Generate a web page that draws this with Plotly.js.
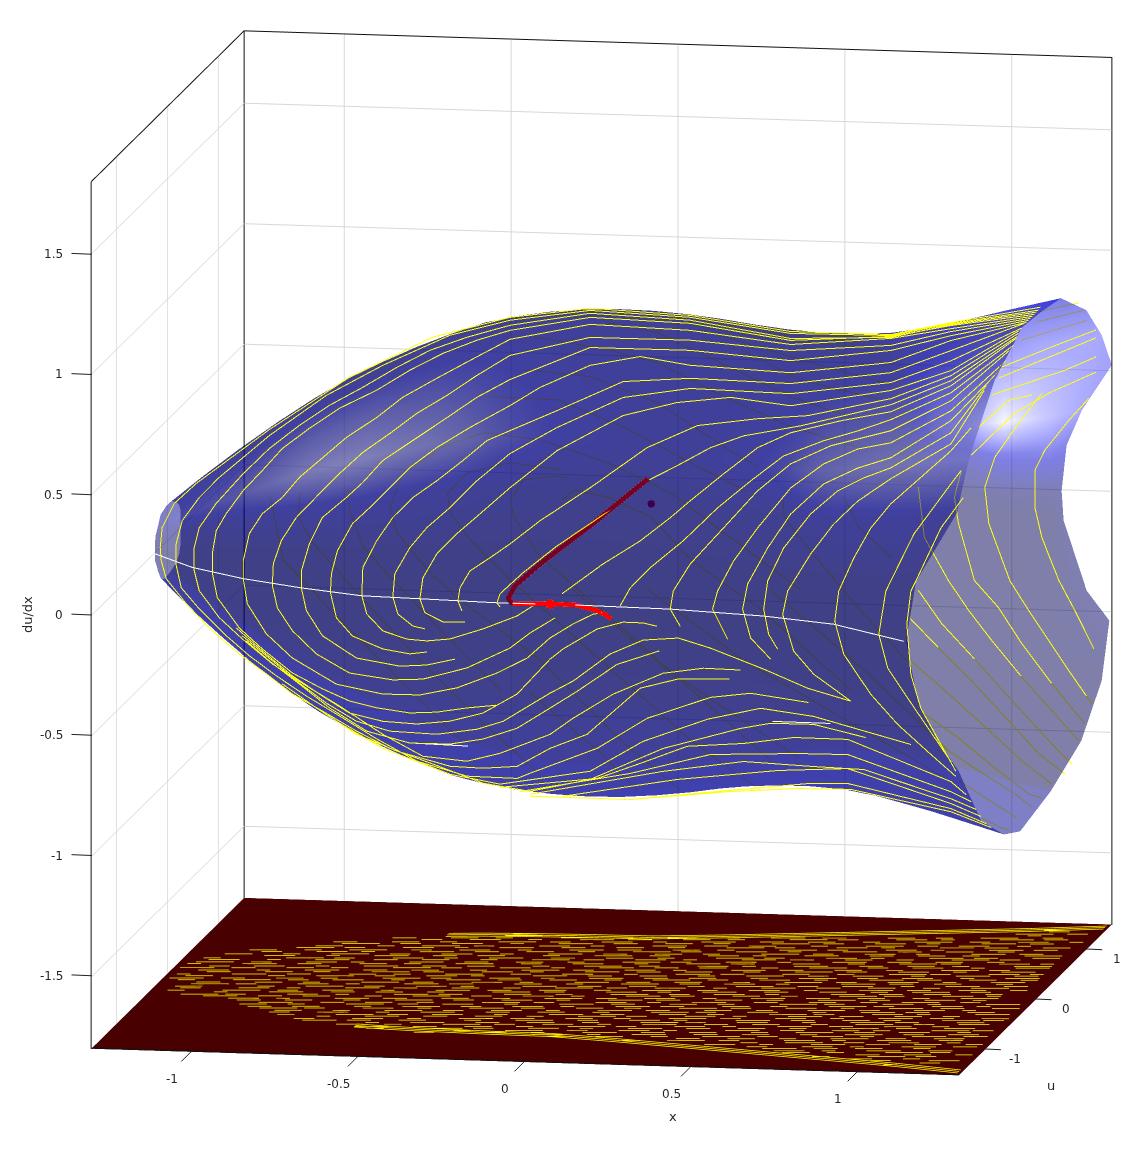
<!DOCTYPE html>
<html><head><meta charset="utf-8">
<script src="https://cdn.plot.ly/plotly-3.0.1.min.js"></script>
<style>html,body{margin:0;padding:0;background:#fff}#p{width:1148px;height:1151px}</style>
</head><body><div id="p"></div>
<script>
const stationX=[-1.3,-1.25,-1.2,-1.1,-1,-.9,-.8,-.7,-.6,-.5,-.4,-.3,-.2,-.1,0,.1,.2,.3,.4,.5,.6,.7,.8,.9,1,1.07,1.13];
const halfU=[.25,.34,.42,.55,.67,.76,.83,.885,.93,.955,.97,.98,.99,.995,1,1.03,1.06,1.095,1.13,1.165,1.2,1.235,1.27,1.305,1.34,1.365,1.39];
const halfZ=[.148,.205,.262,.37,.471,.565,.649,.72,.785,.842,.893,.925,.947,.96,.965,.96,.948,.93,.907,.888,.876,.873,.879,.9,.932,.955,.977];
const ringU=[.07,-.14,-.55,-.76,-.93,-1,-1,-.97,-.83,-.76,-.55,-.38,-.21,.21,.62,.9,1,1,1,1,1,1,1,.9,.69,.345];
const ringZ=[1,.99,.91,.66,.48,.23,-.01,-.26,-.46,-.6,-.86,-.96,-1,-.96,-.88,-.72,-.51,-.39,-.11,.007,.19,.33,.506,.667,.827,.976];
const rimX=[1.3,1.29,1.3,1.27,1.27,1.164,1.134,1.162,1.19,1.238,1.26,1.29,1.3,1.3,1.3,1.3,1.3,1.232,1.163,1.157,1.172,1.218,1.3,1.3,1.3,1.3];
const rimU=[.1,-.2,-.8,-1.1,-1.35,-1.45,-1.45,-1.4,-1.2,-1.1,-.8,-.55,-.3,.3,.9,1.3,1.45,1.45,1.45,1.45,1.45,1.45,1.5,1.3,1,.5];
const rimZ=[1.035,1.034,.94,.68,.5,.237,-.013,-.272,-.478,-.62,-.89,-.996,-1.035,-.994,-.91,-.744,-.526,-.404,-.116,.007,.196,.344,.524,.69,.856,1.01];
const frontBase=[.25,.26,.24,.18,.12,.08,.04,.08,.14,.24,.32,.34,.34,.28];
const bandProfile=[0,0,.25,.75,.2,0,0,0,0,0,0,0,0,0];
const bandStrength=[.2,.25,.3,.4,.5,.7,.9,1,1,.9,.8,.65,.45,.3,.2,.15,.1,.1,.1,.15,.2,.35,.6,.72,.8,.82,.85,.85];
const backLate=[
[0,0,0,0,0,0,0,.15,.4,.45,.3,.2,.15,.1],
[0,0,0,0,0,0,0,.22,.65,.6,.4,.28,.22,.15],
[0,0,0,0,0,0,.04,.35,1,.7,.5,.35,.3,.2],
[0,0,0,0,0,0,.04,.36,.85,.7,.52,.38,.32,.25],
[0,0,0,0,0,0,.04,.38,.72,.65,.55,.4,.35,.3],
[0,0,0,.05,.05,.05,.08,.35,.55,.5,.55,.4,.3,.3]];

const A1=[1.276,1.325,1.096,1.268,.796,1.268,.495,1.322,.195,1.339,-.045,1.291,-.276,1.199,-.526,1.022,-.766,.795,-.985,.562,-1.051,.476,-1.087,.375,-1.093,.292,-1.09,.238,-1.075,.163,-1.015,.062,-.937,-.047,-.856,-.14,-.775,-.219,-.697,-.299,-.607,-.366,-.505,-.445,-.405,-.512,-.276,-.572,-.126,-.645,.015,-.673,.195,-.616,.414,-.478,.646,-.385,.736,-.36,.865,-.359,1.021,-.407];
const A2=[1.276,1.321,1.096,1.264,.796,1.26,.495,1.314,.195,1.33,-.045,1.279,-.225,1.209,-.426,1.076,-.595,.944,-.766,.77,-.916,.59,-.976,.504,-1.027,.406,-1.045,.31,-1.045,.219,-1.03,.127,-.976,.042,-.895,-.066,-.826,-.146,-.745,-.226,-.655,-.306,-.565,-.377,-.444,-.475,-.324,-.562,-.174,-.618,-.024,-.621,.015,-.598,.216,-.486,.366,-.355,.556,-.26,.676,-.238,.85,-.269];
const A3=[1.276,1.317,1.096,1.256,.796,1.239,.495,1.302,.195,1.318,-.045,1.258,-.174,1.203,-.285,1.144,-.384,1.069,-.486,.982,-.586,.903,-.676,.816,-.766,.716,-.844,.609,-.925,.482,-.976,.379,-.991,.296,-.991,.2,-.976,.117,-.916,.008,-.847,-.077,-.757,-.177,-.655,-.264,-.556,-.343,-.426,-.455,-.306,-.541,-.174,-.556,-.075,-.519,.075,-.434,.144,-.364,.264,-.259,.414,-.166,.535,-.14,.646,-.143];
const A4=[1.276,1.313,1.096,1.26,.796,1.231,.495,1.289,.195,1.301,-.045,1.237,-.144,1.192,-.246,1.133,-.345,1.059,-.444,.972,-.556,.892,-.646,.805,-.727,.718,-.787,.624,-.844,.539,-.895,.441,-.925,.369,-.937,.273,-.937,.194,-.922,.091,-.856,-.032,-.787,-.116,-.697,-.212,-.607,-.274,-.526,-.321,-.444,-.346,-.345,-.363,-.264,-.356,-.174,-.335,-.087,-.32];
const A5=[1.276,1.3,1.096,1.252,.796,1.214,.495,1.26,.195,1.272,-.045,1.2,-.165,1.107,-.264,1.029,-.366,.946,-.444,.859,-.535,.772,-.616,.673,-.676,.6,-.727,.515,-.787,.445,-.826,.361,-.844,.248,-.844,.173,-.832,.069,-.775,-.053,-.697,-.15,-.565,-.253,-.426,-.288,-.315,-.287,-.204,-.253,-.084,-.186,.006,-.121,.075,-.034,.144,.027,.204,.07,.231,.077];
const A6=[1.276,1.288,1.096,1.223,.796,1.189,.495,1.219,.195,1.218,-.045,1.133,-.144,1.046,-.234,.959,-.324,.881,-.405,.794,-.486,.712,-.556,.621,-.616,.535,-.685,.434,-.73,.336,-.754,.239,-.757,.148,-.742,.056,-.697,-.037,-.625,-.13,-.526,-.205,-.396,-.228,-.306,-.221,-.174,-.169,-.045,-.081,.015,-.016,.09,.05];
const A7=[1.276,1.271,1.096,1.202,.796,1.147,.495,1.177,.195,1.176,-.045,1.033,-.144,.955,-.246,.855,-.336,.768,-.426,.681,-.486,.587,-.535,.523,-.607,.437,-.646,.326,-.67,.213,-.67,.142,-.655,.048,-.607,-.054,-.505,-.142,-.375,-.17,-.294,-.162,-.21,-.134];
const A8=[1.276,1.251,1.096,1.152,.796,1.097,.495,1.115,.345,1.145,.195,1.102,.045,1.004,-.045,.925,-.165,.829,-.264,.742,-.345,.655,-.405,.569,-.465,.484,-.517,.415,-.562,.301,-.58,.205,-.583,.126,-.565,.022,-.517,-.051,-.426,-.101,-.345,-.118,-.294,-.108];
const A9=[1.276,1.209,1.096,1.11,.796,1.052,.495,1.061,.294,1.039,.096,.91,-.045,.821,-.114,.777,-.186,.691,-.264,.604,-.336,.531,-.396,.446,-.444,.348,-.486,.234,-.489,.117,-.474,.042,-.426,-.026,-.354,-.057,-.294,-.062,-.225,-.051,-.126,-.005,-.024,.053,.024,.097];
const A10=[1.276,1.167,1.096,1.069,.796,1.01,.495,1.019,.294,.973,.096,.84,-.045,.726,-.144,.609,-.225,.494,-.294,.408,-.345,.323,-.39,.213,-.396,.117,-.381,.046,-.336,-.002,-.3,-.012];
const A11=[1.276,1.126,1.096,1.036,.796,.96,.616,.987,.456,.959,.294,.898,.096,.744,-.045,.584,-.135,.472,-.204,.387,-.264,.301,-.306,.199,-.315,.112,-.3,.055,-.246,.019,-.18,.022];
const A12=[1.276,1.105,1.096,1.002,.847,.921,.697,.902,.517,.866,.366,.768,.195,.594,.045,.451,-.045,.351,-.105,.291,-.165,.234,-.195,.162,-.201,.108,-.189,.067];
const A13=[1.276,1.084,1.096,.977,.826,.878,.655,.829,.556,.776,.456,.697,.366,.63,.294,.544,.195,.445,.096,.349,-.006,.233,-.075,.143,-.084,.105,-.075,.088];
const V1=[1.276,1.063,1.096,.948,.946,.904,.796,.848,.697,.782,.595,.669,.495,.553,.435,.48,.345,.38,.234,.28,.111,.151];
const V2=[1.276,1.034,1.096,.915,.997,.864,.895,.819,.775,.751,.676,.643,.577,.527,.474,.386,.375,.27,.315,.183,.285,.108];
const V3=[1.276,1.001,1.096,.869,.916,.799,.796,.719,.697,.603,.595,.445,.495,.291,.444,.176,.435,.101,.465,.031];
const V4=[1.276,.959,1.096,.819,.997,.789,.895,.723,.796,.619,.697,.449,.625,.309,.577,.182,.562,.106,.607,-.017];
const V5=[1.276,.918,1.096,.757,.997,.71,.895,.64,.796,.511,.727,.367,.667,.215,.652,.11,.676,-.009,.736,-.094];
const V6=[1.276,.868,1.096,.715,1.015,.67,.937,.613,.856,.514,.775,.369,.727,.23,.715,.113,.73,.009,.757,-.052];
const V7=[1.276,.822,1.096,.67,.997,.573,.925,.475,.856,.348,.787,.191,.772,.094,.805,-.058,.865,-.151,.976,-.258];
const V8=[1.276,.793,1.096,.566,1.036,.463,.985,.336,.94,.197,.928,.072,.955,-.064,1.036,-.227,1.117,-.349,1.216,-.469,1.291,-.557];
const V9=[1.276,.656,1.165,.443,1.096,.246,1.081,.203,1.06,.023,1.087,-.117,1.147,-.239,1.276,-.496];
const V10=[1.246,.472,1.171,.249,1.156,.206,1.144,.069,1.156,-.139,1.186,-.279,1.291,-.536];
const rimLines=[A1,A2,A3,A4,A5,A6,A7,A8,A9,A10,A11,A12,A13,V1,V2,V3,V4,V5,V6,V7,V8,V9,V10];
const rimTailU=[.166,.126,.087,.047,.008,-.032,-.071,-.111,-.15,-.209,-.249,-.268,-.288,-.308,-.367,-.446,-.505,-.604,-.9,-.939,-1.196,-1.393,-1.354];
const rimTailZ=[1.042,1.038,1.038,1.037,1.037,1.037,1.037,1.037,1.041,1.033,1.032,1.024,1.016,1.012,.995,.99,.961,.948,.939,.927,.826,.689,.568];
const rimTailX=1.29;
const P2=[-.865,-.032,-.787,-.124,-.697,-.224,-.607,-.304,-.526,-.371,-.426,-.401,-.324,-.408,-.225,-.392,-.126,-.354,-.024,-.271,.075,-.122,.114,-.078,.216,.009,.294,.041,.354,.04,.396,.028];
const P3=[-.847,-.064,-.775,-.144,-.685,-.244,-.595,-.333,-.505,-.404,-.405,-.441,-.264,-.448,-.144,-.422,-.066,-.386,.075,-.263,.144,-.21,.255,-.093,.354,-.031,.459,-.018,.556,-.056,.715,-.136,.847,-.21,.976,-.258];
const P4=[-.835,-.085,-.766,-.165,-.676,-.257,-.586,-.352,-.474,-.444,-.345,-.488,-.225,-.487,-.126,-.462,-.024,-.413,.075,-.325,.156,-.252,.276,-.135,.402,-.074];
const P6=[-.727,-.259,-.625,-.354,-.505,-.458,-.384,-.523,-.225,-.579,-.126,-.583,-.024,-.571,.075,-.492,.186,-.429,.345,-.231,.456,-.189,.613,-.182];
const P8=[-.565,-.407,-.426,-.513,-.225,-.612,-.075,-.647,.195,-.582,.354,-.451,.547,-.351,.706,-.299,.865,-.326,1.156,-.43];
const openLines=[P2,P3,P4,P6,P8];
const L11=[-.075,-.66,.216,-.611,.345,-.543,.486,-.466,.655,-.447,.805,-.416,.967,-.417,1.276,-.579];
const L12=[-.015,-.675,.315,-.586,.556,-.497,.817,-.482,.967,-.48,1.276,-.621];
const L13=[.015,-.685,.414,-.573,.655,-.522,.865,-.534,1.015,-.54,1.276,-.65];
const L14=[.114,-.689,.456,-.605,.757,-.555,.967,-.538,1.276,-.67];
const L15=[.315,-.694,.616,-.643,.856,-.604,.967,-.6,1.276,-.691];
const L16=[.015,-.693,.315,-.694,.616,-.648,.817,-.627,.976,-.624,1.276,-.704];
const bottomLines=[L11,L12,L13,L14,L15,L16];
const bottomTailU=[-1.295,-1.196,-1.097,-.999,-.9,-.801];
const bottomTailZ=[-.675,-.725,-.778,-.828,-.878,-.915];

const W1=[1.277,.448,1.217,.354,1.145,.227,1.115,.142,1.115,-.012,1.136,-.136,1.187,-.312,1.235,-.435,1.292,-.591];
const W2=[1.136,.463,1.067,.336,.995,.191,.965,.065,.977,-.084,1.04,-.319,1.097,-.441,1.157,-.563,1.217,-.685,1.286,-.82];
const W3=[.895,.133,.874,.02,.886,-.088,.934,-.323,1.006,-.432,1.076,-.579,1.166,-.741,1.265,-.904];
const W4=[.766,.057,.784,-.151,.856,-.326,.917,-.448,.986,-.57,1.085,-.732,1.175,-.866,1.247,-.975];
const W5=[.766,-.371,.836,-.506,.947,-.667,1.055,-.829,1.166,-.991,1.226,-1.072];
const W6=[.739,-.485,.826,-.606,.925,-.739,1.037,-.901,1.127,-1.034,1.205,-1.114];
const W7=[.736,-.655,.836,-.772,.956,-.916,1.076,-1.065,1.166,-1.157];
const W8=[.784,-.882,.886,-.978,.995,-1.098,1.097,-1.202,1.136,-1.217];
const W9=[.826,-1.005,.934,-1.101,1.055,-1.203,1.106,-1.256];
const W10=[.889,-1.156,.995,-1.247,1.061,-1.303];
const W11=[.956,-1.307,1.016,-1.346,1.04,-1.354];
const W12=[1.106,.795,1.247,.842];
const W13=[1.121,.758,1.265,.813];
const W14=[1.076,.681,1.27,.77];
const W15=[1.016,.566,1.157,.651,1.298,.732];
const W16=[1.007,.52,1.136,.6,1.298,.699];
const W17=[.986,.449,1.205,.561,1.298,.62];
const W18=[.947,.314,1.037,.43,1.106,.454];
const W19=[.925,.197,1.055,.377,1.157,.464,1.298,.557];
const farLines=[W1,W2,W3,W4,W5,W6,W7,W8,W9,W10,W11,W12,W13,W14,W15,W16,W17,W18,W19];

const D1=[-1.132,-.109,-1.138,-.21,-1.093,-.316,-1.021,-.425,-.943,-.546,-.772,-.789,-.592,-1.031,-.411,-1.252];
const D2=[-.862,-.156,-.841,-.264,-.742,-.426,-.652,-.534,-.411,-.774,-.171,-1.096,.009,-1.297];
const D3=[-.691,-.091,-.682,-.174,-.622,-.284,-.502,-.445,-.231,-.766,.039,-1.088,.249,-1.287];
const D5=[-.862,-.156,-.823,-.013,-.703,.1,-.583,.163,-.411,.141,-.21,.054,-.021,-.063,.189,-.271,.369,-.45];
const D6=[-.691,-.091,-.631,-.005,-.502,.042,-.351,.019];
const D7=[-.502,-.112,-.462,-.027,-.36,-.007,-.327,-.014];
const D8=[-.502,-.112,-.492,-.183,-.411,-.346,-.261,-.518,.009,-.84,.279,-1.161];
const D9=[-.345,-.106,-.312,-.063,-.21,-.088,-.081,-.165,.039,-.339,.24,-.526,.52,-.86];
const D10=[-.462,.43,-.261,.409,-.06,.309,.138,.135,.24,.056];
const D11=[-.432,.568,-.21,.523,-.06,.476,.138,.343,.339,.226,.541,.151];
const D12=[-.21,.636,-.06,.6,.09,.507,.339,.351,.541,.264];
const D13=[-.562,.314,-.36,.309,-.162,.205,.039,.064,.21,-.049];
const D14=[.315,-.078,.318,-.149,.378,-.254,.541,-.518,.685,-.728];
const D15=[.498,-.058,.541,-.181,.64,-.302];
const D16=[-.312,-.479,-.042,-.788,.36,-1.145];
const D17=[-.09,-.469,.21,-.76,.559,-1.025,.799,-1.21];
const D18=[-.441,-.912,-.24,-1.141,-.12,-1.302];
const D19=[.279,-.454,.559,-.775,.811,-1.097];
const D20=[-.991,-.079,-.982,-.186,-.943,-.326,-.862,-.447,-.712,-.662,-.532,-.904];
const D21=[-1.222,-.13,-1.183,-.39,-1.012,-.632,-.832,-.874,-.652,-1.116];
const D23=[.189,.54,.369,.423,.61,.35];
const D24=[.069,.618,.369,.506,.64,.413];
const backLines=[D1,D2,D3,D5,D6,D7,D8,D9,D10,D11,D12,D13,D14,D15,D16,D17,D18,D19,D20,D21,D23,D24];

const whiteMain=[-1.111,.266,-.997,.213,-.844,.173,-.67,.142,-.489,.117,-.315,.112,-.084,.105,.144,.106,.435,.101,.715,.084,.925,.059,1.135,-.003];
const whiteA=[-.33,-.488,-.171,-.493];
const whiteB=[.742,-.352,.916,-.353];
const darkRed=[.369,.639,.195,.436,.045,.272,-.03,.178,-.051,.123,-.036,.103];
const brightRed=[-.036,.103,.075,.107,.15,.106,.21,.088,.243,.068,.258,.053];
const redDot=[.075,.107];
const purpleDot=[.378,.536];

const rowU=[1.2,1.12,1.04,1.04,.96,.88,.8,.72,.64,.56,.48,.4,.32,.24,.16,.08,0,-.08,-.16,-.24,-.32,-.4,-.48,-.56,-.64,-.72,-.8,-.88,-.96,-1.04,-1.12,-1.2,-1.28,-1.36,-1.44,-1.52,-1.6,-1.68];
const rowFrom=[1.233,1.056,-.535,.922,-.815,-.978,-1.097,-1.159,-1.19,-1.281,-1.29,-1.29,-1.29,-1.29,-1.29,-1.29,-1.29,-1.259,-1.203,-1.148,-1.092,-1.028,-.967,-.897,-.812,-.727,-.628,-.427,-.124,.209,.395,.539,.681,.81,.895,1.037,1.166,1.265];
const rowTo=[1.289,1.289,-.157,1.289];
const rowShift=[0,-.035];
const dashStart=[
[-1.28,-1.13,-.97,-.84,-.66,-.52,-.35,-.2,-.06,.1,.23,.41,.55,.72,.85,1.02,1.15],
[-1.22,-1.05,-.91,-.74,-.6,-.43,-.28,-.13,.02,.16,.33,.47,.63,.78,.94,1.08,1.23],
[-1.25,-1.09,-.93,-.8,-.63,-.47,-.32,-.17,-.01,.13,.29,.44,.6,.76,.9,1.05,1.2],
[-1.19,-1.02,-.88,-.71,-.56,-.39,-.25,-.09,.06,.2,.37,.52,.67,.82,.98,1.12,1.26],
[-1.27,-1.11,-.95,-.77,-.64,-.49,-.3,-.15,.03,.18,.31,.49,.65,.8,.92,1.09,1.21],
[-1.2,-1.07,-.89,-.75,-.58,-.45,-.26,-.11,.05,.22,.35,.5,.69,.83,.96,1.14,1.24],
[-1.24,-1,-.86,-.69,-.54,-.41,-.23,-.07,.08,.25,.39,.57,.7,.87,1,1.17,1.27]];
const dashLen=[.08,.05,.11,.06,.09,.04,.1,.07];
const edgeInset=[0,.03,.06];
const edgeFirstStation=8;
const edgeEndX=1.29,edgeEndU=1.46;

const X0=-1.3,X1=1.3,U0=-1.5,U1=1.5,Z0=-1.8,Z1=1.8,ZF=-1.797;
const xTicks=[-1,-.5,0,.5,1],uTicks=[-1,0,1],zTicks=[-1.5,-1,-.5,0,.5,1,1.5];
const FRONT_U=-1.5,FAR_U=1.2,BACK_U=1.5;

function collect(list,u){let a=[],b=[],c=[];list.forEach(f=>{for(let i=0;i<f.length;i+=2){a.push(f[i]);b.push(u);c.push(f[i+1]);}a.push(null);b.push(null);c.push(null);});return [a,b,c];}
function lineTrace(p,color,width){return {type:'scatter3d',mode:'lines',x:p[0],y:p[1],z:p[2],line:{color:color,width:width},hoverinfo:'skip'};}
let ya=[],yb=[],yc=[];
rimLines.forEach((f,k)=>{ya.push(rimTailX);yb.push(rimTailU[k]);yc.push(rimTailZ[k]);
 for(let i=0;i<f.length;i+=2){ya.push(f[i]);yb.push(FRONT_U);yc.push(f[i+1]);}ya.push(null);yb.push(null);yc.push(null);});
bottomLines.forEach((f,k)=>{for(let i=0;i<f.length;i+=2){ya.push(f[i]);yb.push(FRONT_U);yc.push(f[i+1]);}
 ya.push(rimTailX,null);yb.push(bottomTailU[k],null);yc.push(bottomTailZ[k],null);});
const op=collect(openLines,FRONT_U);ya=ya.concat(op[0]);yb=yb.concat(op[1]);yc=yc.concat(op[2]);

let sx=[],su=[],sz=[];
for(let i=0;i<=stationX.length;i++){
 let a=[],b=[],c=[];
 for(let k=0;k<=26;k++){const j=k%26;
  if(i<stationX.length){a.push(stationX[i]);b.push(halfU[i]*ringU[j]);c.push(halfZ[i]*ringZ[j]);}
  else{a.push(rimX[j]);b.push(rimU[j]);c.push(rimZ[j]);}
 }
 sx.push(a);su.push(b);sz.push(c);
}
const N=sx.length;
const part=(m,a,b)=>m.map(r=>r.slice(a,b));
let frontC=[],backC=[];
for(let i=0;i<N;i++){
 let f=[],g=[];
 for(let j=0;j<14;j++)f.push(frontBase[j]+bandStrength[i]*bandProfile[j]);
 const late=i-(N-backLate.length);
 for(let j=0;j<14;j++)g.push(late>=0?backLate[late][j]:0.02);
 frontC.push(f);backC.push(g);
}
const flat={ambient:1,diffuse:0,specular:0,roughness:1,fresnel:0};
const front={type:'surface',x:part(sx,0,14),y:part(su,0,14),z:part(sz,0,14),surfacecolor:frontC,cmin:0,cmax:1,showscale:false,opacity:.5,
 colorscale:[[0,'rgb(0,0,85)'],[.35,'rgb(0,0,150)'],[.6,'rgb(60,60,165)'],[1,'rgb(140,140,200)']],lighting:flat,hoverinfo:'skip'};
const back={type:'surface',x:part(sx,13,27),y:part(su,13,27),z:part(sz,13,27),surfacecolor:backC,cmin:0,cmax:1,showscale:false,opacity:.5,
 colorscale:[[0,'rgb(0,0,85)'],[.3,'rgb(0,0,205)'],[.55,'rgb(85,85,255)'],[.8,'rgb(165,165,255)'],[1,'rgb(240,240,255)']],lighting:flat,hoverinfo:'skip'};
const floor={type:'surface',x:[[X0,X1],[X0,X1]],y:[[U0,U0],[U1,U1]],z:[[ZF,ZF],[ZF,ZF]],surfacecolor:[[0,0],[0,0]],cmin:0,cmax:1,
 colorscale:[[0,'rgb(72,0,0)'],[1,'rgb(72,0,0)']],showscale:false,lighting:flat,hoverinfo:'skip'};
let fa=[],fb=[],fc=[];
rowShift.forEach((sh,pass)=>{
 rowU.forEach((u,k)=>{
  const from=rowFrom[k],to=k<rowTo.length?rowTo[k]:1.289;
  dashStart[(k*3+pass*2)%dashStart.length].forEach((x,m)=>{
   const e=x+dashLen[(m+k+pass*3)%dashLen.length];
   if(x<from||e>to)return;
   fa.push(x,e,null);fb.push(u+sh+.2*x,u+sh+.2*e,null);fc.push(ZF,ZF,null);
  });
 });
});
edgeInset.forEach(d=>{[1,-1].forEach(s=>{
 for(let i=edgeFirstStation;i<stationX.length;i++){fa.push(stationX[i]);fb.push(s*(halfU[i]-d));fc.push(ZF);}
 fa.push(edgeEndX,null);fb.push(s*(edgeEndU-d),null);fc.push(ZF,null);});});
const box={type:'scatter3d',mode:'lines',line:{color:'#111',width:2},hoverinfo:'skip',
 x:[X0,X0,X0,null,X0,X0,null,X0,X1,X1,null,X0,X1],
 y:[U0,U1,U1,null,U0,U0,null,U1,U1,U1,null,U0,U0],
 z:[Z1,Z1,Z0,null,ZF,Z1,null,Z1,Z1,Z0,null,-1.794,-1.794]};
const tf={family:'DejaVu Sans',size:12,color:'#262626'};
const place=(x,u,z)=>[601+333.1*x+50.67*u,553+10*x-50*u-240.5*z];
let ann=[];
function tick(x,u,z,ax,ay,lx,ly,t,anchor){const p=place(x,u,z);
 ann.push({xref:'paper',yref:'paper',x:p[0]/1148,y:1-p[1]/1151,text:' ',showarrow:true,arrowhead:0,arrowwidth:1,arrowcolor:'#222',ax,ay,standoff:0,font:tf});
 ann.push({xref:'paper',yref:'paper',x:(p[0]+lx)/1148,y:1-(p[1]+ly)/1151,text:t,showarrow:false,xanchor:anchor||'center',yanchor:'middle',font:tf});}
xTicks.forEach(v=>tick(v,U0,Z0,-14,14,-20,28,String(v)));
uTicks.forEach(v=>tick(X1,v,Z0,21,1,32,10,String(v)));
zTicks.forEach(v=>tick(X0,U0,v,-24,-1,-27,0,String(v),'right'));
const tt={family:'DejaVu Sans',size:13,color:'#262626'};
const title=(px,py,t,angle)=>ann.push({xref:'paper',yref:'paper',x:px/1148,y:1-py/1151,text:t,textangle:angle||0,showarrow:false,xanchor:'center',yanchor:'middle',font:tt});
title(673,1116,'x');title(1051,1085,'u');title(27,615,'du/dx',-90);
const axis=r=>({range:r,title:{text:''},showbackground:false,showgrid:true,gridcolor:'rgb(215,215,215)',gridwidth:2,zeroline:false,showspikes:false,showline:false,showticklabels:false,ticks:''});
const xa=axis([X0,X1]);xa.tickvals=xTicks;const ua=axis([U0,U1]);ua.tickvals=uTicks;const za=axis([Z0,Z1]);za.tickvals=zTicks;
const data=[floor,box,
 lineTrace([fa,fb,fc],'rgb(255,255,0)',3),
 lineTrace(collect(backLines,BACK_U),'rgb(255,255,0)',2),
 lineTrace(collect(farLines,FAR_U),'rgb(255,255,0)',2),
 lineTrace([ya,yb,yc],'rgb(255,255,0)',2),
 lineTrace(collect([whiteMain,whiteA,whiteB],FRONT_U),'rgb(255,255,255)',2),
 lineTrace(collect([darkRed],FRONT_U),'rgb(120,0,35)',10),
 lineTrace(collect([brightRed],FRONT_U),'rgb(255,0,0)',9),
 {type:'scatter3d',mode:'markers',x:[redDot[0]],y:[FRONT_U],z:[redDot[1]],marker:{color:'rgb(255,0,0)',size:5.5},hoverinfo:'skip'},
 {type:'scatter3d',mode:'markers',x:[purpleDot[0]],y:[FRONT_U],z:[purpleDot[1]],marker:{color:'rgb(60,0,80)',size:4.5},hoverinfo:'skip'},
 back,front];
Plotly.newPlot('p',data,{width:1148,height:1151,margin:{l:0,r:0,t:0,b:0},paper_bgcolor:'#fff',showlegend:false,annotations:ann,
 scene:{domain:{x:[0.048,1],y:[0.0381,1]},aspectmode:'manual',aspectratio:{x:1.592,y:1.592,z:1.592},
  camera:{eye:{x:.342,y:-1.94,z:.348},center:{x:0,y:0,z:0},up:{x:0,y:0,z:1},projection:{type:'orthographic'}},
  xaxis:xa,yaxis:ua,zaxis:za}
},{displayModeBar:false});
</script></body></html>
